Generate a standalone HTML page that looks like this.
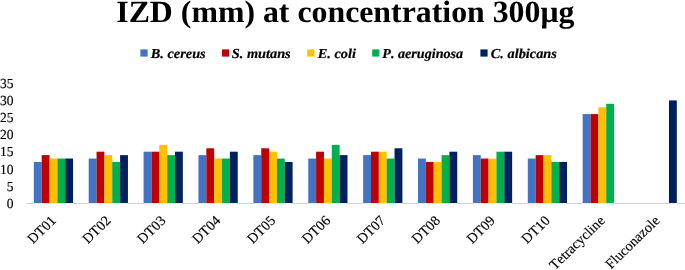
<!DOCTYPE html>
<html><head><meta charset="utf-8"><title>IZD chart</title>
<style>
html,body{margin:0;padding:0;background:#fff;}
svg{display:block;font-kerning:none;text-rendering:geometricPrecision;font-family:"Liberation Serif","Times New Roman",serif;}
.t{font-weight:bold;font-size:30.9px;fill:#000;text-anchor:middle;}
.l{font-weight:bold;font-style:italic;font-size:13.7px;fill:#000;stroke:#000;stroke-width:0.2px;}
.y{font-size:13.8px;fill:#000;stroke:#000;stroke-width:0.15px;text-anchor:end;}
.x{font-size:13.95px;fill:#000;stroke:#000;stroke-width:0.15px;text-anchor:end;}
</style></head><body>
<svg width="685" height="270" viewBox="0 0 685 270">
<rect width="685" height="270" fill="#fff"/>
<text class="t" transform="translate(345.30,21.70) scale(1.03,1)">IZD (mm) at concentration 300μg</text>
<rect x="140.4" y="49.4" width="7.2" height="7.2" fill="#4472C4"/><text class="l" transform="translate(150.80,57.60) scale(1.046,1)">B. cereus</text>
<rect x="222" y="49.4" width="7.2" height="7.2" fill="#C00000"/><text class="l" transform="translate(231.80,57.60) scale(1.046,1)">S. mutans</text>
<rect x="307.2" y="49.4" width="7.2" height="7.2" fill="#FFC000"/><text class="l" transform="translate(317.80,57.60) scale(1.046,1)">E. coli</text>
<rect x="372.2" y="49.4" width="7.2" height="7.2" fill="#00B050"/><text class="l" transform="translate(382.30,57.60) scale(1.032,1)">P. aeruginosa</text>
<rect x="480.4" y="49.4" width="7.2" height="7.2" fill="#002060"/><text class="l" transform="translate(490.80,57.60) scale(1.046,1)">C. albicans</text>
<text class="y" transform="translate(13.50,207.70) scale(0.98,1)">0</text>
<text class="y" transform="translate(13.50,190.60) scale(0.98,1)">5</text>
<text class="y" transform="translate(13.50,173.50) scale(0.98,1)">10</text>
<text class="y" transform="translate(13.50,156.40) scale(0.98,1)">15</text>
<text class="y" transform="translate(13.50,139.30) scale(0.98,1)">20</text>
<text class="y" transform="translate(13.50,122.20) scale(0.98,1)">25</text>
<text class="y" transform="translate(13.50,105.10) scale(0.98,1)">30</text>
<text class="y" transform="translate(13.50,88.00) scale(0.98,1)">35</text>
<rect x="26.0" y="203.0" width="659.0" height="1" fill="#D0D0D0"/>
<rect x="33.82" y="203.0" width="7.85" height="1" fill="#ECECEC"/>
<rect x="41.67" y="203.0" width="7.85" height="1" fill="#ECECEC"/>
<rect x="49.52" y="203.0" width="7.85" height="1" fill="#ECECEC"/>
<rect x="57.37" y="203.0" width="7.85" height="1" fill="#ECECEC"/>
<rect x="65.22" y="203.0" width="7.85" height="1" fill="#ECECEC"/>
<rect x="88.70" y="203.0" width="7.85" height="1" fill="#ECECEC"/>
<rect x="96.55" y="203.0" width="7.85" height="1" fill="#ECECEC"/>
<rect x="104.40" y="203.0" width="7.85" height="1" fill="#ECECEC"/>
<rect x="112.25" y="203.0" width="7.85" height="1" fill="#ECECEC"/>
<rect x="120.10" y="203.0" width="7.85" height="1" fill="#ECECEC"/>
<rect x="143.59" y="203.0" width="7.85" height="1" fill="#ECECEC"/>
<rect x="151.44" y="203.0" width="7.85" height="1" fill="#ECECEC"/>
<rect x="159.29" y="203.0" width="7.85" height="1" fill="#ECECEC"/>
<rect x="167.14" y="203.0" width="7.85" height="1" fill="#ECECEC"/>
<rect x="174.99" y="203.0" width="7.85" height="1" fill="#ECECEC"/>
<rect x="198.47" y="203.0" width="7.85" height="1" fill="#ECECEC"/>
<rect x="206.32" y="203.0" width="7.85" height="1" fill="#ECECEC"/>
<rect x="214.17" y="203.0" width="7.85" height="1" fill="#ECECEC"/>
<rect x="222.02" y="203.0" width="7.85" height="1" fill="#ECECEC"/>
<rect x="229.88" y="203.0" width="7.85" height="1" fill="#ECECEC"/>
<rect x="253.36" y="203.0" width="7.85" height="1" fill="#ECECEC"/>
<rect x="261.21" y="203.0" width="7.85" height="1" fill="#ECECEC"/>
<rect x="269.06" y="203.0" width="7.85" height="1" fill="#ECECEC"/>
<rect x="276.91" y="203.0" width="7.85" height="1" fill="#ECECEC"/>
<rect x="284.76" y="203.0" width="7.85" height="1" fill="#ECECEC"/>
<rect x="308.25" y="203.0" width="7.85" height="1" fill="#ECECEC"/>
<rect x="316.10" y="203.0" width="7.85" height="1" fill="#ECECEC"/>
<rect x="323.94" y="203.0" width="7.85" height="1" fill="#ECECEC"/>
<rect x="331.80" y="203.0" width="7.85" height="1" fill="#ECECEC"/>
<rect x="339.64" y="203.0" width="7.85" height="1" fill="#ECECEC"/>
<rect x="363.13" y="203.0" width="7.85" height="1" fill="#ECECEC"/>
<rect x="370.98" y="203.0" width="7.85" height="1" fill="#ECECEC"/>
<rect x="378.83" y="203.0" width="7.85" height="1" fill="#ECECEC"/>
<rect x="386.68" y="203.0" width="7.85" height="1" fill="#ECECEC"/>
<rect x="394.53" y="203.0" width="7.85" height="1" fill="#ECECEC"/>
<rect x="418.01" y="203.0" width="7.85" height="1" fill="#ECECEC"/>
<rect x="425.87" y="203.0" width="7.85" height="1" fill="#ECECEC"/>
<rect x="433.71" y="203.0" width="7.85" height="1" fill="#ECECEC"/>
<rect x="441.56" y="203.0" width="7.85" height="1" fill="#ECECEC"/>
<rect x="449.41" y="203.0" width="7.85" height="1" fill="#ECECEC"/>
<rect x="472.90" y="203.0" width="7.85" height="1" fill="#ECECEC"/>
<rect x="480.75" y="203.0" width="7.85" height="1" fill="#ECECEC"/>
<rect x="488.60" y="203.0" width="7.85" height="1" fill="#ECECEC"/>
<rect x="496.45" y="203.0" width="7.85" height="1" fill="#ECECEC"/>
<rect x="504.30" y="203.0" width="7.85" height="1" fill="#ECECEC"/>
<rect x="527.78" y="203.0" width="7.85" height="1" fill="#ECECEC"/>
<rect x="535.63" y="203.0" width="7.85" height="1" fill="#ECECEC"/>
<rect x="543.49" y="203.0" width="7.85" height="1" fill="#ECECEC"/>
<rect x="551.33" y="203.0" width="7.85" height="1" fill="#ECECEC"/>
<rect x="559.18" y="203.0" width="7.85" height="1" fill="#ECECEC"/>
<rect x="582.67" y="203.0" width="7.85" height="1" fill="#ECECEC"/>
<rect x="590.52" y="203.0" width="7.85" height="1" fill="#ECECEC"/>
<rect x="598.37" y="203.0" width="7.85" height="1" fill="#ECECEC"/>
<rect x="606.22" y="203.0" width="7.85" height="1" fill="#ECECEC"/>
<rect x="668.96" y="203.0" width="7.85" height="1" fill="#ECECEC"/>
<rect x="33.82" y="161.96" width="7.85" height="41.04" fill="#4472C4"/>
<rect x="41.67" y="155.12" width="7.85" height="47.88" fill="#C00000"/>
<rect x="49.52" y="158.54" width="7.85" height="44.46" fill="#FFC000"/>
<rect x="57.37" y="158.54" width="7.85" height="44.46" fill="#00B050"/>
<rect x="65.22" y="158.54" width="7.85" height="44.46" fill="#002060"/>
<text dy="9" class="x" transform="translate(50.24,215.00) scale(1.03,1) rotate(-45)">DT01</text>
<rect x="88.70" y="158.54" width="7.85" height="44.46" fill="#4472C4"/>
<rect x="96.55" y="151.70" width="7.85" height="51.30" fill="#C00000"/>
<rect x="104.40" y="155.12" width="7.85" height="47.88" fill="#FFC000"/>
<rect x="112.25" y="161.96" width="7.85" height="41.04" fill="#00B050"/>
<rect x="120.10" y="155.12" width="7.85" height="47.88" fill="#002060"/>
<text dy="9" class="x" transform="translate(105.13,215.00) scale(1.03,1) rotate(-45)">DT02</text>
<rect x="143.59" y="151.70" width="7.85" height="51.30" fill="#4472C4"/>
<rect x="151.44" y="151.70" width="7.85" height="51.30" fill="#C00000"/>
<rect x="159.29" y="144.86" width="7.85" height="58.14" fill="#FFC000"/>
<rect x="167.14" y="155.12" width="7.85" height="47.88" fill="#00B050"/>
<rect x="174.99" y="151.70" width="7.85" height="51.30" fill="#002060"/>
<text dy="9" class="x" transform="translate(160.01,215.00) scale(1.03,1) rotate(-45)">DT03</text>
<rect x="198.47" y="155.12" width="7.85" height="47.88" fill="#4472C4"/>
<rect x="206.32" y="148.28" width="7.85" height="54.72" fill="#C00000"/>
<rect x="214.17" y="158.54" width="7.85" height="44.46" fill="#FFC000"/>
<rect x="222.02" y="158.54" width="7.85" height="44.46" fill="#00B050"/>
<rect x="229.88" y="151.70" width="7.85" height="51.30" fill="#002060"/>
<text dy="9" class="x" transform="translate(214.90,215.00) scale(1.03,1) rotate(-45)">DT04</text>
<rect x="253.36" y="155.12" width="7.85" height="47.88" fill="#4472C4"/>
<rect x="261.21" y="148.28" width="7.85" height="54.72" fill="#C00000"/>
<rect x="269.06" y="151.70" width="7.85" height="51.30" fill="#FFC000"/>
<rect x="276.91" y="158.54" width="7.85" height="44.46" fill="#00B050"/>
<rect x="284.76" y="161.96" width="7.85" height="41.04" fill="#002060"/>
<text dy="9" class="x" transform="translate(269.78,215.00) scale(1.03,1) rotate(-45)">DT05</text>
<rect x="308.25" y="158.54" width="7.85" height="44.46" fill="#4472C4"/>
<rect x="316.10" y="151.70" width="7.85" height="51.30" fill="#C00000"/>
<rect x="323.94" y="158.54" width="7.85" height="44.46" fill="#FFC000"/>
<rect x="331.80" y="144.86" width="7.85" height="58.14" fill="#00B050"/>
<rect x="339.64" y="155.12" width="7.85" height="47.88" fill="#002060"/>
<text dy="9" class="x" transform="translate(324.67,215.00) scale(1.03,1) rotate(-45)">DT06</text>
<rect x="363.13" y="155.12" width="7.85" height="47.88" fill="#4472C4"/>
<rect x="370.98" y="151.70" width="7.85" height="51.30" fill="#C00000"/>
<rect x="378.83" y="151.70" width="7.85" height="51.30" fill="#FFC000"/>
<rect x="386.68" y="158.54" width="7.85" height="44.46" fill="#00B050"/>
<rect x="394.53" y="148.28" width="7.85" height="54.72" fill="#002060"/>
<text dy="9" class="x" transform="translate(379.55,215.00) scale(1.03,1) rotate(-45)">DT07</text>
<rect x="418.01" y="158.54" width="7.85" height="44.46" fill="#4472C4"/>
<rect x="425.87" y="161.96" width="7.85" height="41.04" fill="#C00000"/>
<rect x="433.71" y="161.96" width="7.85" height="41.04" fill="#FFC000"/>
<rect x="441.56" y="155.12" width="7.85" height="47.88" fill="#00B050"/>
<rect x="449.41" y="151.70" width="7.85" height="51.30" fill="#002060"/>
<text dy="9" class="x" transform="translate(434.44,215.00) scale(1.03,1) rotate(-45)">DT08</text>
<rect x="472.90" y="155.12" width="7.85" height="47.88" fill="#4472C4"/>
<rect x="480.75" y="158.54" width="7.85" height="44.46" fill="#C00000"/>
<rect x="488.60" y="158.54" width="7.85" height="44.46" fill="#FFC000"/>
<rect x="496.45" y="151.70" width="7.85" height="51.30" fill="#00B050"/>
<rect x="504.30" y="151.70" width="7.85" height="51.30" fill="#002060"/>
<text dy="9" class="x" transform="translate(489.32,215.00) scale(1.03,1) rotate(-45)">DT09</text>
<rect x="527.78" y="158.54" width="7.85" height="44.46" fill="#4472C4"/>
<rect x="535.63" y="155.12" width="7.85" height="47.88" fill="#C00000"/>
<rect x="543.49" y="155.12" width="7.85" height="47.88" fill="#FFC000"/>
<rect x="551.33" y="161.96" width="7.85" height="41.04" fill="#00B050"/>
<rect x="559.18" y="161.96" width="7.85" height="41.04" fill="#002060"/>
<text dy="9" class="x" transform="translate(544.21,215.00) scale(1.03,1) rotate(-45)">DT10</text>
<rect x="582.67" y="114.08" width="7.85" height="88.92" fill="#4472C4"/>
<rect x="590.52" y="114.08" width="7.85" height="88.92" fill="#C00000"/>
<rect x="598.37" y="107.24" width="7.85" height="95.76" fill="#FFC000"/>
<rect x="606.22" y="103.82" width="7.85" height="99.18" fill="#00B050"/>
<text dy="9" class="x" transform="translate(599.09,215.00) scale(1.03,1) rotate(-45)">Tetracycline</text>
<rect x="668.96" y="100.40" width="7.85" height="102.60" fill="#002060"/>
<text dy="9" class="x" transform="translate(653.98,215.00) scale(1.03,1) rotate(-45)">Fluconazole</text>
</svg></body></html>
